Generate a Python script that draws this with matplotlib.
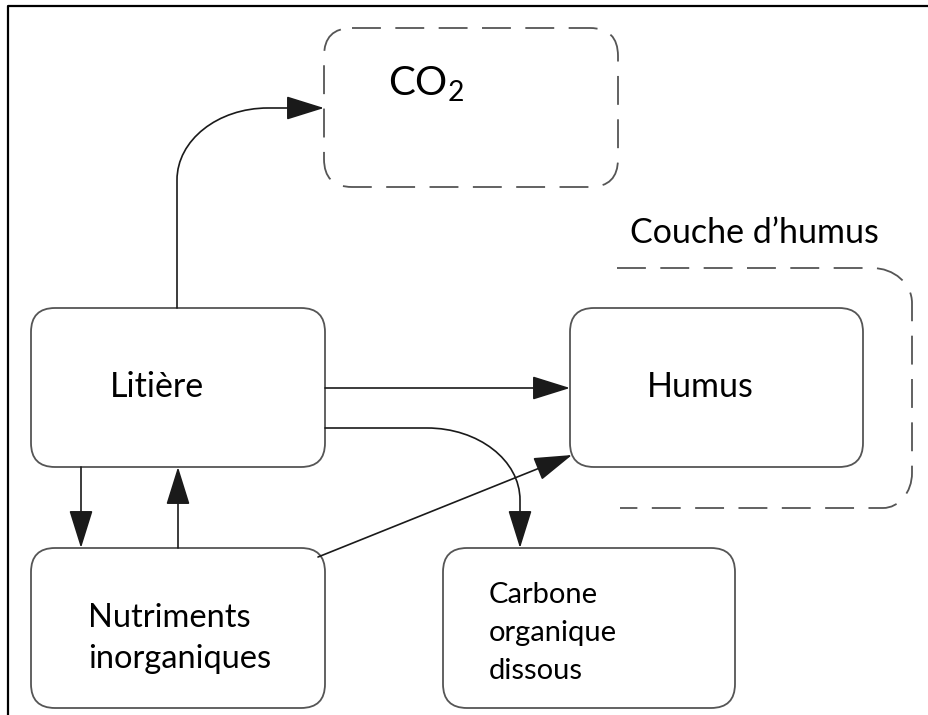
import matplotlib.pyplot as plt
from matplotlib.patches import FancyBboxPatch, FancyArrowPatch, PathPatch
from matplotlib.path import Path

plt.rcParams['font.family'] = ['Lato', 'DejaVu Sans']
plt.rcParams['mathtext.fontset'] = 'custom'
plt.rcParams['mathtext.rm'] = 'Lato'

# node labels (one entry per line)
co2_label = ['CO$_\\mathrm{2}$']
litiere_label = ['Litière']
humus_label = ['Humus']
nutri_label = ['Nutriments', 'inorganiques']
carbone_label = ['Carbone', 'organique', 'dissous']
layer_label = "Couche d’humus"

BOX_EC = '#555555'
LINE_C = '#1a1a1a'
DASH = (0, (16, 8))

fig = plt.figure(figsize=(9.29, 7.15), dpi=100)
ax = fig.add_axes([0, 0, 1, 1])
ax.set_xlim(0, 929)
ax.set_ylim(715, 0)
ax.axis('off')

# outer frame (top and left only, the rest is cut off)
ax.plot([8, 8, 929], [715, 6, 6], color='black', lw=1.6, solid_capstyle='butt')


def box(x0, y0, x1, y1, dashed=False, r=24):
    p = FancyBboxPatch((x0, y0), x1 - x0, y1 - y0,
                       boxstyle=f'round,pad=0,rounding_size={r}',
                       fc='white', ec=BOX_EC, lw=1.3,
                       ls=DASH if dashed else '-')
    ax.add_patch(p)


def label(lines, x, y0, size, step):
    for i, s in enumerate(lines):
        ax.text(x, y0 + i * step, s, fontsize=size, ha='left', va='baseline', color='black')


box(324, 28, 618, 187, dashed=True, r=28)
box(31, 308, 325, 467)
box(570, 308, 863, 467)
box(31, 548, 325, 708)
box(443, 548, 735, 708)

# dashed "humus layer" bracket, open on the left
k = 0.5523
layer = Path([(617, 268), (872, 268),
              (872 + k * 40, 268), (912, 303 - k * 35), (912, 303),
              (912, 473),
              (912, 473 + k * 35), (883 + k * 29, 508), (883, 508),
              (620, 508)],
             [Path.MOVETO, Path.LINETO,
              Path.CURVE4, Path.CURVE4, Path.CURVE4,
              Path.LINETO,
              Path.CURVE4, Path.CURVE4, Path.CURVE4,
              Path.LINETO])
ax.add_patch(PathPatch(layer, fc='none', ec=BOX_EC, lw=1.3, ls=DASH))

head = '-|>,head_length=2.4,head_width=0.75'


def arrow(verts, codes):
    a = FancyArrowPatch(path=Path(verts, codes), arrowstyle=head, mutation_scale=10,
                        color=LINE_C, lw=1.2, shrinkA=0, shrinkB=0)
    ax.add_patch(a)


# Litière -> CO2
arrow([(177, 308), (177, 180),
       (177, 180 - k * 72), (268 - k * 91, 108), (268, 108),
       (324, 108)],
      [Path.MOVETO, Path.LINETO, Path.CURVE4, Path.CURVE4, Path.CURVE4, Path.LINETO])
# Litière -> Humus
arrow([(325, 388), (570, 388)], [Path.MOVETO, Path.LINETO])
# Litière -> Carbone organique dissous
arrow([(325, 428), (427, 428),
       (427 + k * 93, 428), (520, 500 - k * 72), (520, 500),
       (520, 548)],
      [Path.MOVETO, Path.LINETO, Path.CURVE4, Path.CURVE4, Path.CURVE4, Path.LINETO])
# Nutriments -> Humus
arrow([(318, 557), (572, 455)], [Path.MOVETO, Path.LINETO])
# Litière -> Nutriments
arrow([(81, 467), (81, 548)], [Path.MOVETO, Path.LINETO])
# Nutriments -> Litière
arrow([(178, 548), (178, 467)], [Path.MOVETO, Path.LINETO])

label(co2_label, 388, 95, 29, 0)
label(litiere_label, 110, 397, 24.5, 0)
label(humus_label, 647, 397, 24.5, 0)
label(nutri_label, 88, 627, 23.5, 41)
label(carbone_label, 489, 603, 21, 38)
ax.text(630, 243, layer_label, fontsize=24.5, ha='left', va='baseline', color='black')

fig.savefig('out.png', dpi=100)
